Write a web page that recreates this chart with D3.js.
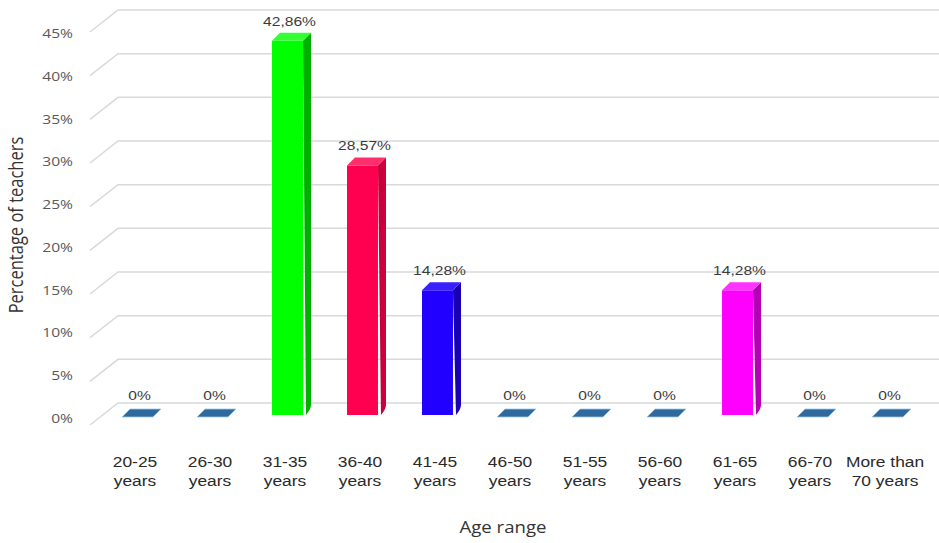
<!DOCTYPE html>
<html>
<head>
<meta charset="utf-8">
<script src="https://cdn.jsdelivr.net/npm/d3@7"></script>
<style>
  html, body { margin: 0; padding: 0; background: #ffffff; }
  svg { display: block; }
</style>
</head>
<body>
<svg id="chart" width="939" height="543"></svg>
<script>
// Age ranges of the surveyed teachers
const categories = ["20-25 years", "26-30 years", "31-35 years", "36-40 years", "41-45 years",
  "46-50 years", "51-55 years", "56-60 years", "61-65 years", "66-70 years", "More than 70 years"];
const categoryLines = [["20-25", "years"], ["26-30", "years"], ["31-35", "years"], ["36-40", "years"],
  ["41-45", "years"], ["46-50", "years"], ["51-55", "years"], ["56-60", "years"], ["61-65", "years"],
  ["66-70", "years"], ["More than", "70 years"]];
// Percentage of teachers in each range
const values = [0, 0, 42.86, 28.57, 14.28, 0, 0, 0, 14.28, 0, 0];
const valueLabels = ["0%", "0%", "42,86%", "28,57%", "14,28%", "0%", "0%", "0%", "14,28%", "0%", "0%"];
const yTicks = [0, 5, 10, 15, 20, 25, 30, 35, 40, 45];

// Face colours per bar: front, side, top
const barColors = [
  null, null,
  { front: "#00ff00", side: "#00b000", top: "#33ff33" },
  { front: "#ff0050", side: "#c8003c", top: "#ff2e6c" },
  { front: "#2200ff", side: "#1800b4", top: "#3a1fff" },
  null, null, null,
  { front: "#ff00ff", side: "#b400b4", top: "#ff33ff" },
  null, null
];
const flatColor = { top: "#2f6a9e", edge: "#9cc8ee" };

const svg = d3.select("#chart");
const SX = 1.2;         // horizontal stretch applied to text
const depthX = 8, depthY = 8;   // bar depth skew

const x = d3.scaleBand().domain(categories).range([100, 925]).paddingInner(0.587).paddingOuter(0.2933);
// back wall, bar plane and front plane share one value range
const yBack = d3.scaleLinear().domain([0, 45]).range([403, 10]);
const yBar = d3.scaleLinear().domain([0, 45]).range([415, 22]);
const yFront = d3.scaleLinear().domain([0, 45]).range([418, 33]);

function stretchedText(g, tx, ty, str, opts) {
  const t = g.append("g").attr("transform", `translate(${tx},${ty}) scale(${SX},1)`)
    .append("text").text(str)
    .attr("font-family", opts.family)
    .attr("font-size", opts.size)
    .attr("fill", opts.fill)
    .attr("text-anchor", opts.anchor || "middle");
  if (opts.baseline) t.attr("dominant-baseline", opts.baseline);
  return t;
}

// Gridlines: floor diagonal then along the back wall
const grid = svg.append("g");
yTicks.forEach(v => {
  const yb = yBack(v);
  grid.append("path")
    .attr("d", `M90,${yb + 22}L118,${yb}L939,${yb}`)
    .attr("fill", "none")
    .attr("stroke", "#d9d9d9")
    .attr("stroke-width", 1.5);
});

// Y tick labels
const yLab = svg.append("g");
yTicks.forEach(v => {
  stretchedText(yLab, 73, yFront(v), v + "%",
    { family: "'Open Sans', sans-serif", size: 13, fill: "#595959", anchor: "end", baseline: "central" });
});

// Bars
const bars = svg.append("g");
categories.forEach((c, i) => {
  const x0 = x(c), w = x.bandwidth();
  const base = yBar(0), top = yBar(values[i]);
  const col = barColors[i];
  if (values[i] > 0 && col) {
    bars.append("rect").attr("x", x0).attr("y", top).attr("width", w).attr("height", base - top)
      .attr("fill", col.front);
    bars.append("path")
      .attr("d", `M${x0 + w},${top}L${x0 + w + depthX},${top - depthY}L${x0 + w + depthX},${base - depthY - 2}Q${x0 + w + depthX},${base - depthY + 2} ${x0 + w + 3},${base}Z`)
      .attr("fill", col.side);
    bars.append("path")
      .attr("d", `M${x0},${top}L${x0 + depthX},${top - depthY}L${x0 + w + depthX},${top - depthY}L${x0 + w},${top}Z`)
      .attr("fill", col.top);
  } else {
    bars.append("path")
      .attr("d", `M${x0},${base + 2}L${x0 + depthX},${base - depthY + 2}L${x0 + w + depthX},${base - depthY + 2}L${x0 + w},${base + 2}Z`)
      .attr("fill", flatColor.top)
      .attr("stroke", flatColor.edge)
      .attr("stroke-width", 0.8);
  }
  // value label
  stretchedText(bars, x0 + w / 2 + 2, top - depthY - 7, valueLabels[i],
    { family: "'Liberation Sans', Arial, sans-serif", size: 13, fill: "#3a3a3a" });
});

// Category labels
const xLab = svg.append("g");
categories.forEach((c, i) => {
  const cx = x(c) + 13;
  categoryLines[i].forEach((line, k) => {
    stretchedText(xLab, cx, 467 + k * 19, line,
      { family: "'Liberation Sans', Arial, sans-serif", size: 14.5, fill: "#2a2a2a" });
  });
});

// Axis titles
svg.append("g").attr("transform", "translate(23,225) rotate(-90) scale(1,1.2)")
  .append("text").text("Percentage of teachers")
  .attr("font-family", "'Open Sans', sans-serif").attr("font-size", 16.5)
  .attr("fill", "#333333").attr("text-anchor", "middle");
stretchedText(svg, 503, 533, "Age range",
  { family: "'Open Sans', sans-serif", size: 15.5, fill: "#333333" });
</script>
</body>
</html>
